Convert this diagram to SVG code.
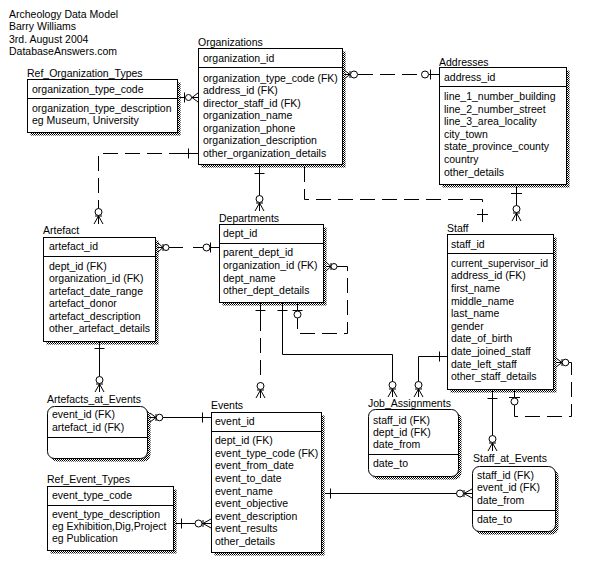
<svg xmlns="http://www.w3.org/2000/svg" width="593" height="567" viewBox="0 0 593 567">
<defs>
<pattern id="dither" width="2" height="2" patternUnits="userSpaceOnUse">
<rect x="0" y="0" width="1" height="1" fill="#000"/>
<rect x="1" y="1" width="1" height="1" fill="#000"/>
</pattern>
<style>
text{font-family:"Liberation Sans",Arial,sans-serif;font-size:10.5px;fill:#000}
.box{fill:#fff;stroke:#000;stroke-width:1}
.sh{fill:url(#dither);stroke:none}
.sep{stroke:#000;stroke-width:1;fill:none}
.ln{stroke:#000;stroke-width:1;fill:none}
.dash{stroke-dasharray:15 7}
.c{fill:#fff;stroke:#000;stroke-width:1}
</style>
</defs>
<rect width="593" height="567" fill="#fff"/>

<g id="title">
<text x="9" y="17.5">Archeology Data Model</text>
<text x="9" y="30">Barry Williams</text>
<text x="9" y="42.5">3rd. August 2004</text>
<text x="9" y="55">DatabaseAnswers.com</text>
</g>

<g id="connectors">
<!-- Ref_Organization_Types -> Organizations -->
<path class="ln" d="M180,97.5 H198 M184.5,92.5 V102.5 M198,93 L192,97.5 L198,102"/>
<circle class="c" cx="188.5" cy="97.5" r="3"/>
<!-- Organizations -> Addresses -->
<path class="ln" d="M344,70 L350,74.5 L344,79 M350,71 V78 M344,74.5 H351"/>
<path class="ln dash" d="M358,74.5 H421"/>
<path class="ln" d="M429,74.5 H439 M430.5,69.5 V79.5"/>
<circle class="c" cx="354" cy="74.5" r="3.5"/>
<circle class="c" cx="425" cy="74.5" r="3.5"/>
<!-- Organizations -> Artefact -->
<path class="ln" d="M198,153.5 H184 M188.5,148.5 V158.5"/>
<path class="ln dash" d="M184,153.5 H98.5 V205"/>
<path class="ln" d="M98.5,205 V224 M94,224 L98.5,216 L103,224 M95,216 H102"/>
<circle class="c" cx="98.5" cy="212" r="3.5"/>
<!-- Organizations -> Departments -->
<path class="ln" d="M259.5,164 V211 M254.5,173.5 H264.5 M255,211 L259.5,203 L264,211 M256,203 H263"/>
<circle class="c" cx="259.5" cy="199" r="3.5"/>
<!-- Organizations -> Staff (director) -->
<path class="ln dash" d="M304.5,167 V199.5 H482.5 V222"/>
<path class="ln" d="M477,214.5 H488"/>
<!-- Addresses -> Staff -->
<path class="ln" d="M516.5,187 V221 M511,193.5 H522 M512,221 L516.5,213 L521,221 M513,213 H520"/>
<circle class="c" cx="516.5" cy="209" r="3.5"/>
<!-- Artefact -> Departments -->
<path class="ln" d="M158,243 L163,247.5 L158,252 M163,244 V251 M158,247.5 H183 M193,247.5 H219 M210.5,242.5 V252.5"/>
<circle class="c" cx="166" cy="247.5" r="3"/>
<circle class="c" cx="206.5" cy="247.5" r="3.5"/>
<!-- Departments self -->
<path class="ln" d="M326,262 L331,266.5 L326,271 M331,263 V270 M326,266.5 H331"/>
<path class="ln dash" d="M337,266.5 H347.5 V333.5 H297.5 V318"/>
<path class="ln" d="M297.5,302 V318 M292.5,310.5 H302.5"/>
<circle class="c" cx="334" cy="266.5" r="3"/>
<circle class="c" cx="297.5" cy="314.5" r="3.5"/>
<!-- Departments -> Events -->
<path class="ln" d="M260.5,302 V316 M255.5,310.5 H265.5"/>
<path class="ln dash" d="M260.5,316 V383"/>
<path class="ln" d="M260.5,383 V398 M256,398 L260.5,390 L265,398 M257,390 H264"/>
<circle class="c" cx="260.5" cy="386" r="3.5"/>
<!-- Departments -> Job_Assignments -->
<path class="ln" d="M282.5,302 V354.5 H392.5 V397 M277.5,310.5 H287.5 M388,397 L392.5,389 L397,397 M389,389 H396"/>
<circle class="c" cx="392.5" cy="385" r="3.5"/>
<!-- Staff -> Job_Assignments -->
<path class="ln" d="M447,356.5 H418.5 V397 M439.5,351.5 V361.5 M414,397 L418.5,389 L423,397 M415,389 H422"/>
<circle class="c" cx="418.5" cy="385" r="3.5"/>
<!-- Staff self -->
<path class="ln" d="M556,358 L562,362.5 L556,367 M562,359 V366 M556,362.5 H562"/>
<path class="ln dash" d="M569,362.5 H571.5 V416.5 H514.5 V405"/>
<path class="ln" d="M514.5,389 V405 M509,397.5 H520"/>
<circle class="c" cx="565.5" cy="362.5" r="3.3"/>
<circle class="c" cx="514.5" cy="401.5" r="3.5"/>
<!-- Staff -> Staff_at_Events -->
<path class="ln" d="M492.5,389 V451 M487.5,398.5 H497.5 M488,451 L492.5,443 L497,451 M489,443 H496"/>
<circle class="c" cx="492.5" cy="439" r="3.5"/>
<!-- Artefact -> Artefacts_at_Events -->
<path class="ln" d="M99.5,341 V392 M94.5,348.5 H104.5 M95,392 L99.5,384 L104,392 M96,384 H103"/>
<circle class="c" cx="99.5" cy="380" r="3.5"/>
<!-- Events -> Artefacts_at_Events -->
<path class="ln" d="M150,413 L156,417.5 L150,422 M156,414 V421 M150,417.5 H211 M202.5,412.5 V422.5"/>
<circle class="c" cx="159.5" cy="417.5" r="3.3"/>
<!-- Ref_Event_Types -> Events -->
<path class="ln" d="M176,523.5 H211 M181.5,518.5 V528.5 M211,519 L203,523.5 L211,528 M203,520 V527"/>
<circle class="c" cx="198.5" cy="523.5" r="3.5"/>
<!-- Events -> Staff_at_Events -->
<path class="ln" d="M325,493.5 H472 M330.5,488.5 V498.5 M472,489 L464,493.5 L472,498 M464,490 V497"/>
<circle class="c" cx="460" cy="493.5" r="3.5"/>
</g>

<g id="Ref_Organization_Types">
<text x="27" y="76.5">Ref_Organization_Types</text>
<rect class="sh" x="30.5" y="82.5" width="150" height="53"/>
<rect class="box" x="27.5" y="79.5" width="150" height="53"/>
<path class="sep" d="M27.5,98.5 H177.5"/>
<text x="32" y="92.5">organization_type_code</text>
<text x="32" y="111.5">organization_type_description</text>
<text x="32" y="124">eg Museum, University</text>
</g>

<g id="Organizations">
<text x="198" y="46">Organizations</text>
<rect class="sh" x="201.5" y="51.5" width="144" height="116"/>
<rect class="box" x="198.5" y="48.5" width="144" height="116"/>
<path class="sep" d="M198.5,67.5 H342.5"/>
<text x="203" y="62">organization_id</text>
<text x="203" y="81.5">organization_type_code (FK)</text>
<text x="203" y="94">address_id (FK)</text>
<text x="203" y="106.5">director_staff_id (FK)</text>
<text x="203" y="119">organization_name</text>
<text x="203" y="131.5">organization_phone</text>
<text x="203" y="144">organization_description</text>
<text x="203" y="156.5">other_organization_details</text>
</g>

<g id="Addresses">
<text x="439" y="65.5">Addresses</text>
<rect class="sh" x="442.5" y="70.5" width="127" height="117"/>
<rect class="box" x="439.5" y="67.5" width="127" height="117"/>
<path class="sep" d="M439.5,86.5 H566.5"/>
<text x="444" y="81">address_id</text>
<text x="444" y="100">line_1_number_building</text>
<text x="444" y="112.6">line_2_number_street</text>
<text x="444" y="125.2">line_3_area_locality</text>
<text x="444" y="137.8">city_town</text>
<text x="444" y="150.4">state_province_county</text>
<text x="444" y="163">country</text>
<text x="444" y="175.6">other_details</text>
</g>

<g id="Artefact">
<text x="43" y="234.2">Artefact</text>
<rect class="sh" x="46.5" y="240.5" width="112" height="104"/>
<rect class="box" x="43.5" y="237.5" width="112" height="104"/>
<path class="sep" d="M43.5,256.5 H155.5"/>
<text x="49" y="250.2">artefact_id</text>
<text x="49" y="269.5">dept_id (FK)</text>
<text x="49" y="282">organization_id (FK)</text>
<text x="49" y="294.5">artefact_date_range</text>
<text x="49" y="307">artefact_donor</text>
<text x="49" y="319.5">artefact_description</text>
<text x="49" y="332">other_artefact_details</text>
</g>

<g id="Departments">
<text x="219" y="221.8">Departments</text>
<rect class="sh" x="222.5" y="227.5" width="104" height="78"/>
<rect class="box" x="219.5" y="224.5" width="104" height="78"/>
<path class="sep" d="M219.5,243.5 H323.5"/>
<text x="223" y="237">dept_id</text>
<text x="223" y="256.2">parent_dept_id</text>
<text x="223" y="268.9">organization_id (FK)</text>
<text x="223" y="281.6">dept_name</text>
<text x="223" y="294.3">other_dept_details</text>
</g>

<g id="Staff">
<text x="447" y="231.5">Staff</text>
<rect class="sh" x="450.5" y="237.5" width="106" height="155"/>
<rect class="box" x="447.5" y="234.5" width="106" height="155"/>
<path class="sep" d="M447.5,253.5 H553.5"/>
<text x="451" y="248">staff_id</text>
<text x="451" y="266.8" textLength="97" lengthAdjust="spacingAndGlyphs">current_supervisor_id</text>
<text x="451" y="279.4">address_id (FK)</text>
<text x="451" y="292">first_name</text>
<text x="451" y="304.6">middle_name</text>
<text x="451" y="317.2">last_name</text>
<text x="451" y="329.8">gender</text>
<text x="451" y="342.4">date_of_birth</text>
<text x="451" y="355">date_joined_staff</text>
<text x="451" y="367.6">date_left_staff</text>
<text x="451" y="380.2">other_staff_details</text>
</g>

<g id="Artefacts_at_Events">
<text x="47" y="402.5">Artefacts_at_Events</text>
<rect class="sh" x="50.5" y="409.5" width="100" height="52" rx="7"/>
<rect class="box" x="47.5" y="406.5" width="100" height="52" rx="7"/>
<path class="sep" d="M47.5,437.5 H147.5"/>
<text x="52" y="417.8">event_id (FK)</text>
<text x="52" y="430.8">artefact_id (FK)</text>
</g>

<g id="Events">
<text x="211" y="408.5">Events</text>
<rect class="sh" x="214.5" y="415.5" width="110" height="140"/>
<rect class="box" x="211.5" y="412.5" width="110" height="140"/>
<path class="sep" d="M211.5,431.5 H321.5"/>
<text x="215" y="425.2">event_id</text>
<text x="215" y="444.2">dept_id (FK)</text>
<text x="215" y="456.8">event_type_code (FK)</text>
<text x="215" y="469.4">event_from_date</text>
<text x="215" y="482">event_to_date</text>
<text x="215" y="494.6">event_name</text>
<text x="215" y="507.2">event_objective</text>
<text x="215" y="519.8">event_description</text>
<text x="215" y="532.4">event_results</text>
<text x="215" y="545">other_details</text>
</g>

<g id="Ref_Event_Types">
<text x="47" y="482.5">Ref_Event_Types</text>
<rect class="sh" x="50.5" y="489.5" width="126" height="64"/>
<rect class="box" x="47.5" y="486.5" width="126" height="64"/>
<path class="sep" d="M47.5,505.5 H173.5"/>
<text x="52" y="498.5">event_type_code</text>
<text x="52" y="517.5">event_type_description</text>
<text x="52" y="529.8">eg Exhibition,Dig,Project</text>
<text x="52" y="542">eg Publication</text>
</g>

<g id="Job_Assignments">
<text x="368" y="406.8">Job_Assignments</text>
<rect class="sh" x="371.5" y="412.5" width="90" height="67" rx="7"/>
<rect class="box" x="368.5" y="409.5" width="90" height="67" rx="7"/>
<path class="sep" d="M368.5,454.5 H458.5"/>
<text x="373" y="423.5">staff_id (FK)</text>
<text x="373" y="435.8">dept_id (FK)</text>
<text x="373" y="448.2">date_from</text>
<text x="373" y="467.2">date_to</text>
</g>

<g id="Staff_at_Events">
<text x="473" y="462.2">Staff_at_Events</text>
<rect class="sh" x="475.5" y="469.5" width="83" height="65" rx="7"/>
<rect class="box" x="472.5" y="466.5" width="83" height="65" rx="7"/>
<path class="sep" d="M472.5,510.5 H555.5"/>
<text x="477" y="478.5">staff_id (FK)</text>
<text x="477" y="491.2">event_id (FK)</text>
<text x="477" y="503.5">date_from</text>
<text x="477" y="522.5">date_to</text>
</g>
</svg>
